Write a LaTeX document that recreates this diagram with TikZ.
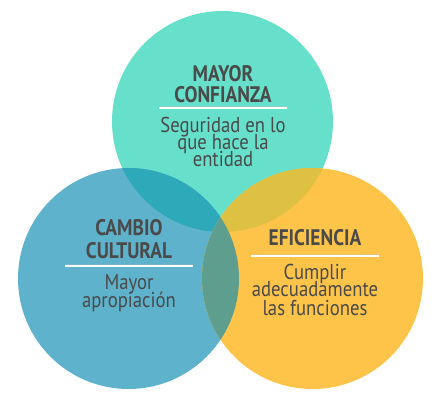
\documentclass[tikz,border=0pt]{standalone}
\usepackage{fontspec}
\setmainfont{PT Sans}
\newfontfamily\titlefont[FakeStretch=0.86]{PT Sans}
\newfontfamily\bodyfont[FakeStretch=0.87]{PT Sans}
\definecolor{cTop}{HTML}{66E0CB}
\definecolor{cLeft}{HTML}{5EB2CB}
\definecolor{cRight}{HTML}{FEC44A}
\definecolor{cTL}{HTML}{2EA9BA}
\definecolor{cTR}{HTML}{DEC142}
\definecolor{cLR}{HTML}{5E9E8E}
\definecolor{txt}{HTML}{4A4A4A}
\tikzset{
  ttl/.style={anchor=base, text=txt, inner sep=0pt, text height=15pt, text depth=1pt, font=\titlefont\bfseries\fontsize{22.5}{21}\selectfont},
  bdy/.style={anchor=base, text=txt, inner sep=0pt, text height=13.5pt, text depth=2.5pt, font=\bodyfont\fontsize{21.5}{17.5}\selectfont},
  sep/.style={white, line width=1.4pt},
  sepshadow/.style={black!25, line width=1.4pt, opacity=0.35},
}
\begin{document}
\begin{tikzpicture}[x=1pt,y=-1pt]
\useasboundingbox (0,0) rectangle (442,403);
% circles
\coordinate (cT) at (222.5,121.5);
\coordinate (cL) at (128.5,278.5);
\coordinate (cR) at (312.5,278.5);
\def\rr{110.5}
\fill[cTop] (cT) circle (\rr);
\fill[cLeft] (cL) circle (\rr);
\fill[cRight] (cR) circle (\rr);
\begin{scope}
  \clip (cT) circle (\rr);
  \fill[cTL] (cL) circle (\rr);
  \fill[cTR] (cR) circle (\rr);
\end{scope}
\begin{scope}
  \clip (cL) circle (\rr);
  \fill[cLR] (cR) circle (\rr);
\end{scope}
% top texts
\node[ttl] (t1) at (223,82) {MAYOR};
\node[ttl] (t2) at (223,103) {CONFIANZA};
\coordinate (s1a) at (159,108); \coordinate (s1b) at (287,108);
\draw[sepshadow] ([yshift=1.5pt]s1a) -- ([yshift=1.5pt]s1b);
\draw[sep] (s1a) -- (s1b);
\node[bdy] (b1) at (223,133) {Seguridad en lo};
\node[bdy] (b2) at (223,150) {que hace la};
\node[bdy] (b3) at (223,167) {entidad};
% left texts
\node[ttl] (l1) at (129,236) {CAMBIO};
\node[ttl] (l2) at (129,259) {CULTURAL};
\coordinate (s2a) at (65,266); \coordinate (s2b) at (193,266);
\draw[sepshadow] ([yshift=1.5pt]s2a) -- ([yshift=1.5pt]s2b);
\draw[sep] (s2a) -- (s2b);
\node[bdy] (m1) at (129,290) {Mayor};
\node[bdy] (m2) at (129,308) {apropiación};
% right texts
\node[ttl] (r1) at (315,246) {EFICIENCIA};
\coordinate (s3a) at (251,256); \coordinate (s3b) at (379,256);
\draw[sepshadow] ([yshift=1.5pt]s3a) -- ([yshift=1.5pt]s3b);
\draw[sep] (s3a) -- (s3b);
\node[bdy] (e1) at (315,280) {Cumplir};
\node[bdy] (e2) at (315,297) {adecuadamente};
\node[bdy] (e3) at (315,316) {las funciones};
\end{tikzpicture}
\end{document}
